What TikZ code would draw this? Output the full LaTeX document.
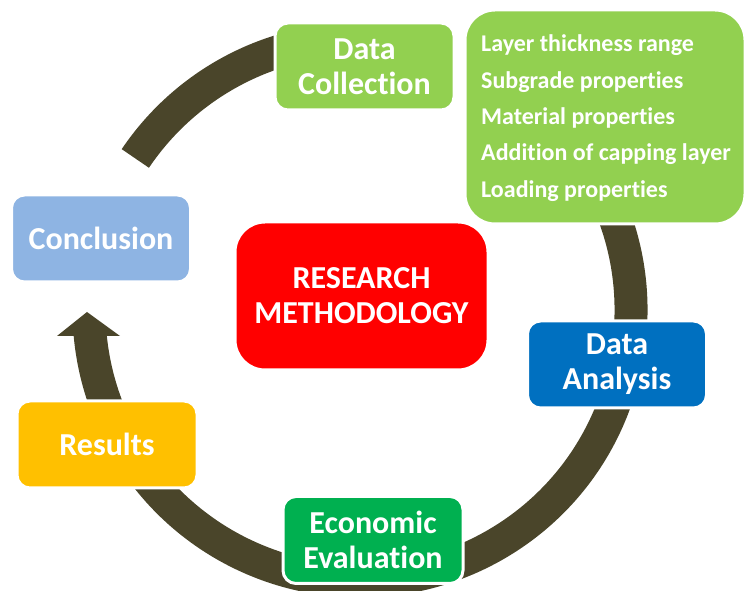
\documentclass[tikz,border=0pt]{standalone}
\usepackage{fontspec}
\setmainfont{Carlito}[Ligatures=NoCommon]
\usepackage{tikz}

\definecolor{ringcol}{HTML}{4A452A}
\definecolor{lgreen}{HTML}{92D050}
\definecolor{lblue}{HTML}{8EB4E3}
\definecolor{dblue}{HTML}{0070C0}
\definecolor{dgreen}{HTML}{00B050}
\definecolor{amber}{HTML}{FFC000}

\begin{document}
\begin{tikzpicture}[x=1pt,y=1pt]
\tikzstyle{every node}=[text=white,font=\bfseries\fontsize{32}{35}\selectfont];
\tikzstyle{stage}=[draw=white,line width=3pt,rounded corners=13pt,minimum width=179pt,minimum height=87pt,align=center,inner sep=0pt];
\tikzstyle{ring}=[draw=ringcol,line width=33pt];
\useasboundingbox (0,0) rectangle (744,591);

\coordinate (c) at (360,281); %centre of the cycle

% ring first, the boxes sit on top of it
\draw[ring] ([shift={(146:271)}]c) arc[start angle=146,end angle=100,radius=271];
\draw[ring] ([shift={(30:271)}]c) arc[start angle=30,end angle=-175,radius=271];
\fill[ringcol] (57,255) -- (120,255) -- (87,279) -- cycle; %arrow head

\node[stage,fill=lgreen] (collect) at (364.5,524.5) {Data\\Collection};
\node[stage,fill=lgreen,rounded corners=30pt,minimum width=280pt,minimum height=214pt] (details) at (605,474) {};
\foreach \t [count=\i] in {Layer thickness range,Subgrade properties,Material properties,Addition of capping layer,Loading properties}
	\node[anchor=base west,inner sep=0pt,font=\bfseries\fontsize{24}{28}\selectfont] (item\i) at (481,575.3-36.3*\i) {\t}; %list inside details

\node[stage,fill=lblue] (concl) at (101,352.5) {Conclusion};
\node[stage,fill=red,rounded corners=30pt,minimum width=253pt,minimum height=148pt] (method) at (361.5,295) {RESEARCH\\METHODOLOGY};
\node[stage,fill=dblue] (analysis) at (617,226.5) {Data\\Analysis};
\node[stage,fill=dgreen,minimum width=180pt] (econ) at (373,51) {Economic\\Evaluation};
\node[stage,fill=amber,minimum width=180pt] (results) at (107,146.5) {Results};
\end{tikzpicture}
\end{document}
